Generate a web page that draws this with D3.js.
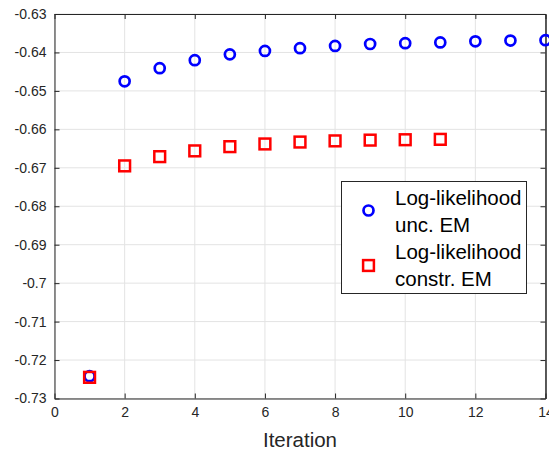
<!DOCTYPE html>
<html><head><meta charset="utf-8">
<script src="https://cdn.jsdelivr.net/npm/d3@7"></script>
<style>body{margin:0;background:#fff}svg{display:block}</style>
</head><body>
<svg id="c" width="549" height="451"></svg>
<script>
const iterUnc = [1,2,3,4,5,6,7,8,9,10,11,12,13,14];
const llUnc = [-0.7242,-0.6475,-0.6441,-0.6420,-0.6405,-0.6396,-0.6389,-0.6383,-0.6378,-0.6376,-0.6374,-0.6371,-0.6369,-0.6368];
const iterCon = [1,2,3,4,5,6,7,8,9,10,11];
const llCon = [-0.7245,-0.6695,-0.6671,-0.6656,-0.6645,-0.6638,-0.6633,-0.6630,-0.6628,-0.6627,-0.6626];
const xTicks = [0,2,4,6,8,10,12,14];
const yTicks = [-0.73,-0.72,-0.71,-0.7,-0.69,-0.68,-0.67,-0.66,-0.65,-0.64,-0.63];
const legendLabels = [["Log-likelihood","unc. EM"],["Log-likelihood","constr. EM"]];
const xLabel = "Iteration";

const svg = d3.select("#c");
const L=54.5, R=545.5, T=14, B=398.5;
const x = d3.scaleLinear().domain([0,14]).range([L,R]);
const y = d3.scaleLinear().domain([-0.73,-0.63]).range([B,T]);
const font = "'Liberation Sans', Arial, Helvetica, sans-serif";
const axisCol = "#262626";

// grid
svg.append("g").selectAll("line").data(xTicks).join("line")
  .attr("x1",d=>x(d)).attr("x2",d=>x(d)).attr("y1",T).attr("y2",B)
  .attr("stroke","#e3e3e3").attr("stroke-width",1);
svg.append("g").selectAll("line").data(yTicks).join("line")
  .attr("y1",d=>y(d)).attr("y2",d=>y(d)).attr("x1",L).attr("x2",R)
  .attr("stroke","#e3e3e3").attr("stroke-width",1);

// axes
const fmtY = d => d3.format(".2~f")(d).replace("\u2212","-");
const gx = svg.append("g").attr("transform",`translate(0,${B})`)
  .call(d3.axisBottom(x).tickValues(xTicks).tickSize(-5).tickPadding(9).tickSizeOuter(0));
const gy = svg.append("g").attr("transform",`translate(${L},0)`)
  .call(d3.axisLeft(y).tickValues(yTicks).tickFormat(fmtY).tickSize(-5).tickPadding(8).tickSizeOuter(0));
const gxt = svg.append("g").attr("transform",`translate(0,${T})`)
  .call(d3.axisTop(x).tickValues(xTicks).tickSize(-5).tickFormat("").tickSizeOuter(0));
const gyr = svg.append("g").attr("transform",`translate(${R},0)`)
  .call(d3.axisRight(y).tickValues(yTicks).tickSize(-5).tickFormat("").tickSizeOuter(0));
[gx,gy,gxt,gyr].forEach(g=>{
  g.selectAll("path").attr("stroke",axisCol).attr("stroke-width",1);
  g.selectAll("line").attr("stroke",axisCol);
  g.selectAll("text").attr("fill",axisCol).style("font-family",font).style("font-size","14px");
});
gyr.select("path").attr("stroke-width",1.5);

// axis label
svg.append("text").attr("x",(L+R)/2).attr("y",446.5).attr("text-anchor","middle")
  .style("font-family",font).style("font-size","20.5px").attr("fill",axisCol).text(xLabel);

// data: unconstrained circles
svg.append("g").selectAll("circle").data(iterUnc.map((d,i)=>[d,llUnc[i]])).join("circle")
  .attr("cx",d=>x(d[0])).attr("cy",d=>y(d[1])).attr("r",5)
  .attr("fill","none").attr("stroke","#0000ff").attr("stroke-width",2.7);
// constrained squares
const s=10.8;
svg.append("g").selectAll("rect").data(iterCon.map((d,i)=>[d,llCon[i]])).join("rect")
  .attr("x",d=>x(d[0])-s/2).attr("y",d=>y(d[1])-s/2).attr("width",s).attr("height",s)
  .attr("fill","none").attr("stroke","#ff0000").attr("stroke-width",2.5);

// legend
const lg = svg.append("g");
lg.append("rect").attr("x",341.5).attr("y",181.5).attr("width",185).attr("height",112)
  .attr("fill","#fff").attr("stroke",axisCol).attr("stroke-width",1);
lg.append("circle").attr("cx",368.5).attr("cy",210.5).attr("r",5)
  .attr("fill","none").attr("stroke","#0000ff").attr("stroke-width",2.7);
lg.append("rect").attr("x",368.5-s/2).attr("y",265.5-s/2).attr("width",s).attr("height",s)
  .attr("fill","none").attr("stroke","#ff0000").attr("stroke-width",2.5);
const baselines=[[205,231.5],[259,285.5]];
legendLabels.forEach((lines,i)=>{
  lines.forEach((t,j)=>{
    lg.append("text").attr("x",395).attr("y",baselines[i][j])
      .style("font-family",font).style("font-size","20.5px").attr("fill","#000").text(t);
  });
});
</script>
</body></html>
